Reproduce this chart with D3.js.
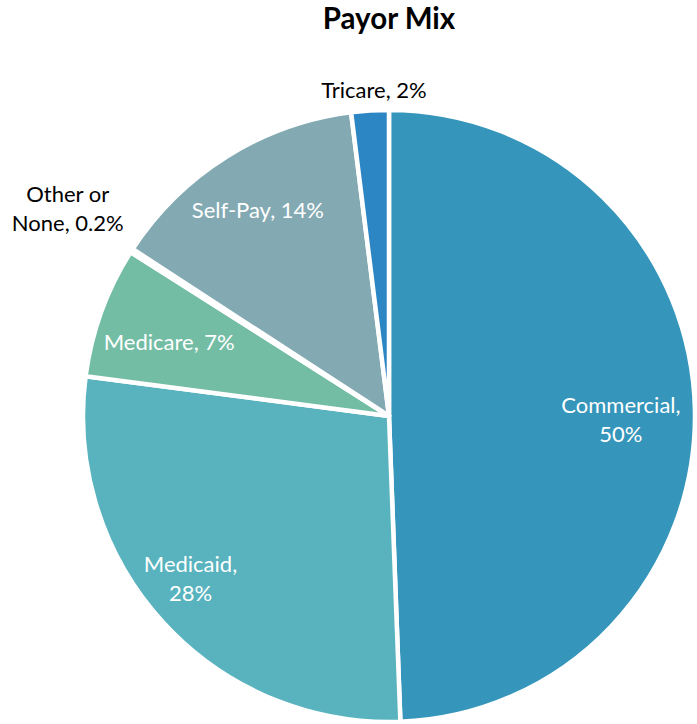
<!DOCTYPE html>
<html>
<head>
<meta charset="utf-8">
<script src="https://cdn.jsdelivr.net/npm/d3@7"></script>
<style>
  html, body { margin: 0; padding: 0; background: #fff; }
  svg { display: block; }
  text { font-family: Lato, "Open Sans", sans-serif; }
</style>
</head>
<body>
<svg id="chart" width="697" height="724"></svg>
<script>
// Payor mix shares (percent), clockwise from 12 o'clock
const categories = ["Commercial", "Medicaid", "Medicare", "Other or None", "Self-Pay", "Tricare"];
const values = [50, 28, 7, 0.2, 14, 2];
const valueLabels = ["50%", "28%", "7%", "0.2%", "14%", "2%"];
const colors = ["#3595bb", "#58b3be", "#74bda5", "#8fb8c4", "#83aab3", "#2d86c4"];

// label text lines per slice
const labelLines = [
  ["Commercial,", "50%"],
  ["Medicaid,", "28%"],
  ["Medicare, 7%"],
  ["Other or", "None, 0.2%"],
  ["Self-Pay, 14%"],
  ["Tricare, 2%"]
];
// label placement: distance from centre (fraction of radius) and angular nudge (degrees)
const labelRadius = [0.758, 0.84, 0.757, 1.248, 0.795, 1.063];
const labelShift = [2.2, 2.9, -1.5, 0, -0.6, 0.9];
const labelInside = [true, true, true, false, true, false];

const W = 697, H = 724;
const cx = 389, cy = 416, R = 306;

const svg = d3.select("#chart");

svg.append("text")
  .attr("x", cx).attr("y", 29)
  .attr("text-anchor", "middle")
  .attr("font-size", 29.5)
  .attr("font-weight", 700)
  .attr("fill", "#000")
  .text("Payor Mix");

const data = categories.map((c, i) => ({ name: c, value: values[i], i }));

const pie = d3.pie().value(d => d.value).sort(null);
const arcs = pie(data);
const arc = d3.arc().innerRadius(0).outerRadius(R);

const g = svg.append("g").attr("transform", `translate(${cx},${cy})`);

g.selectAll("path.slice")
  .data(arcs)
  .join("path")
  .attr("class", "slice")
  .attr("d", arc)
  .attr("fill", d => colors[d.data.i])
  .attr("stroke", "#fff")
  .attr("stroke-width", 4.5)
  .attr("stroke-linejoin", "round");

const lineH = 29;
g.selectAll("text.lbl")
  .data(arcs)
  .join("text")
  .attr("class", "lbl")
  .attr("text-anchor", "middle")
  .attr("font-size", 22)
  .attr("fill", d => labelInside[d.data.i] ? "#fff" : "#000")
  .each(function (d) {
    const i = d.data.i;
    const mid = (d.startAngle + d.endAngle) / 2 + labelShift[i] * Math.PI / 180;
    const r = R * labelRadius[i];
    const x = r * Math.sin(mid);
    const y = -r * Math.cos(mid);
    const lines = labelLines[i];
    const y0 = y - (lines.length - 1) * lineH / 2 + 7;
    const t = d3.select(this);
    lines.forEach((ln, k) => {
      t.append("tspan").attr("x", x).attr("y", y0 + k * lineH).text(ln);
    });
  });
</script>
</body>
</html>
